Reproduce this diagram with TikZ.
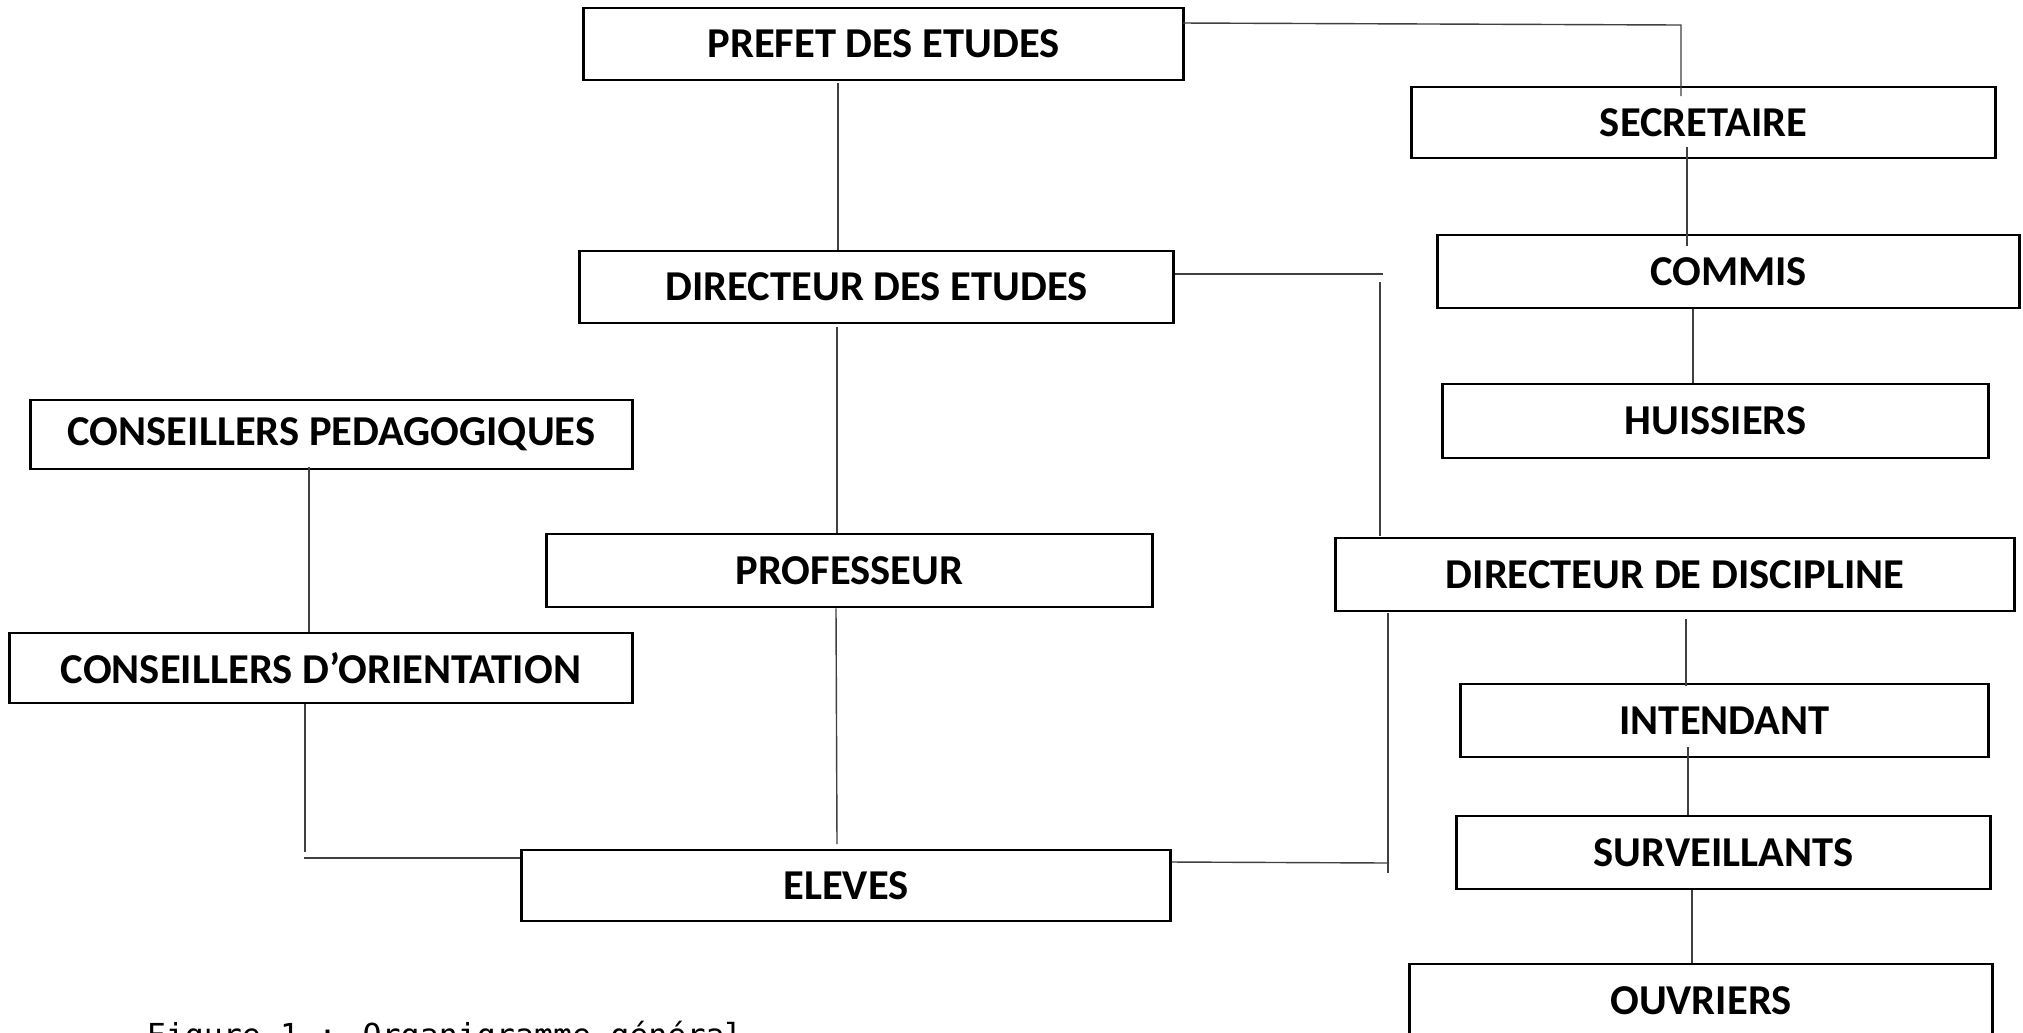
\documentclass[tikz,border=0pt]{standalone}
\usepackage{fontspec}
\setmainfont{Carlito}
\newfontfamily\capfont{DejaVu Sans Mono}
\begin{document}
\begin{tikzpicture}[x=0.01cm,y=-0.01cm,
  orgbox/.style={draw=black, line width=0.8pt, fill=white, inner sep=0pt,
    font=\bfseries\fontsize{12.1pt}{14pt}\selectfont},
  link/.style={draw=black!75, line width=0.4pt}]
  % page
  \fill[white] (0,0) rectangle (2023,1032);
  \useasboundingbox (0,0) rectangle (2023,1032);

  % boxes
  \node[orgbox, minimum width=5.99cm, minimum height=0.72cm] (prefet) at (883.5,44) {PREFET DES ETUDES};
  \node[orgbox, minimum width=5.83cm, minimum height=0.71cm] (secr) at (1703.5,122.5) {SECRETAIRE};
  \node[orgbox, minimum width=5.81cm, minimum height=0.73cm] (commis) at (1728.5,271.5) {COMMIS};
  \node[orgbox, minimum width=5.45cm, minimum height=0.74cm] (huis) at (1715.5,421) {HUISSIERS};
  \node[orgbox, minimum width=5.93cm, minimum height=0.72cm] (dde) at (876.5,287) {DIRECTEUR DES ETUDES};
  \node[orgbox, minimum width=6.01cm, minimum height=0.69cm] (cp) at (331.5,434.5) {CONSEILLERS PEDAGOGIQUES};
  \node[orgbox, minimum width=6.22cm, minimum height=0.70cm] (co) at (321,668) {CONSEILLERS D’ORIENTATION};
  \node[orgbox, minimum width=6.05cm, minimum height=0.73cm] (prof) at (849.5,570.5) {PROFESSEUR};
  \node[orgbox, minimum width=6.78cm, minimum height=0.73cm] (ddisc) at (1675,574.5) {DIRECTEUR DE DISCIPLINE};
  \node[orgbox, minimum width=5.27cm, minimum height=0.73cm] (intend) at (1724.5,720.5) {INTENDANT};
  \node[orgbox, minimum width=5.33cm, minimum height=0.73cm] (surv) at (1723.5,852.5) {SURVEILLANTS};
  \node[orgbox, minimum width=5.82cm, minimum height=0.73cm] (ouvr) at (1701,1000.5) {OUVRIERS};
  \node[orgbox, minimum width=6.48cm, minimum height=0.71cm] (eleves) at (846,885.5) {ELEVES};

  % turning points and free ends
  \coordinate (pS) at (1183,23);
  \coordinate (pK) at (1681,25);
  \coordinate (pE) at (1681,96);
  \coordinate (ddeK) at (1383,274);
  \coordinate (vTop) at (1380,282);
  \coordinate (vBot) at (1380,536);
  \coordinate (coK) at (305,852);
  \coordinate (elL) at (304,858);
  \coordinate (elR) at (1389,863);
  \coordinate (rTop) at (1388,613);
  \coordinate (rBot) at (1388,873);

  % connectors
  \draw[link] (pS) -- (pK) -- (pE);
  \draw[link] (838,83) -- (dde.north -| 838,0);
  \draw[link] (1687,147) -- (1687,246);
  \draw[link] (commis.south -| 1693,0) -- (1693,383);
  \draw[link] (dde.east |- ddeK) -- (ddeK);
  \draw[link] (vTop) -- (vBot);
  \draw[link] (837,327) -- (prof.north -| 837,0);
  \draw[link] (prof.south -| 836,0) -- (837,844);
  \draw[link] (309,467) -- (co.north -| 309,0);
  \draw[link] (co.south -| 305,0) -- (coK);
  \draw[link] (elL) -- (eleves.west |- elL);
  \draw[link] (eleves.east |- 0,862) -- (elR);
  \draw[link] (rTop) -- (rBot);
  \draw[link] (1686,619) -- (1686,686);
  \draw[link] (1688,747) -- (surv.north -| 1688,0);
  \draw[link] (surv.south -| 1692,0) -- (ouvr.north -| 1692,0);

  % caption, running off the lower edge
  \node[anchor=base west, inner sep=0pt, font=\capfont\fontsize{9pt}{11pt}\selectfont] (cap) at (146,1046) {Figure 1 : Organigramme général};
\end{tikzpicture}
\end{document}
